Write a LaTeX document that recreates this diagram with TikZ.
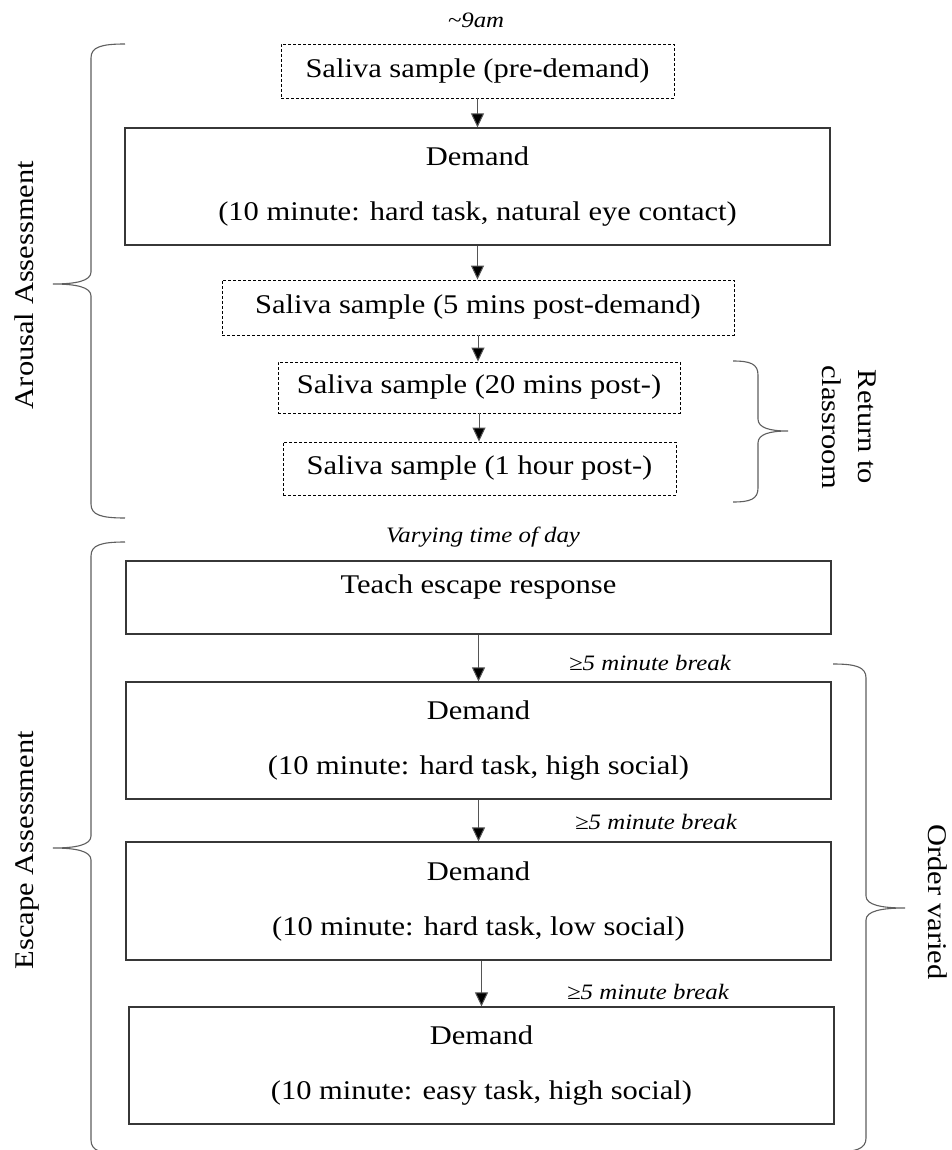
\documentclass[tikz,border=0pt]{standalone}
\usepackage{fontspec}
\setmainfont{Liberation Serif}[FakeStretch=1.13]
\usetikzlibrary{arrows.meta}
\definecolor{boxc}{RGB}{55,55,55}
\definecolor{arrc}{RGB}{85,85,85}
\definecolor{bracec}{RGB}{95,95,95}
\newcommand\mainsz{\fontsize{27}{55}\selectfont}
\newcommand\sidesz{\fontsize{27}{36}\selectfont}
\newcommand\notesz{\fontsize{22}{26}\selectfont\itshape}
% #1 end x, #2 spine x, #3 tip x, #4 top y, #5 tip y, #6 bottom y
\newcommand\mybrace[6]{%
  \draw[brc] (#1,#4) .. controls ({#2+0.3*(#1-#2)},#4) and (#2,{#4+3}) .. (#2,{#4+14})
    -- (#2,{#5-12}) .. controls (#2,{#5-3}) and ({#2+0.4*(#3-#2)},#5) .. (#3,#5)
    .. controls ({#2+0.4*(#3-#2)},#5) and (#2,{#5+3}) .. (#2,{#5+12})
    -- (#2,{#6-14}) .. controls (#2,{#6-3}) and ({#2+0.3*(#1-#2)},#6) .. (#1,#6);}
\begin{document}
\begin{tikzpicture}[x=1pt,y=-1pt,
  every node/.style={font=\mainsz},
  box/.style={draw=boxc, line width=1.2pt, inner sep=0pt},
  dbox/.style={draw=black, line width=0.9pt, dash pattern=on 3pt off 2pt, inner sep=0pt},
  arr/.style={draw=arrc, line width=1pt, -{Triangle[length=14pt,width=13pt,fill=black]}},
  note/.style={font=\notesz},
  side/.style={font=\mainsz},
  side2/.style={font=\sidesz, align=center},
  brc/.style={draw=bracec, line width=1.1pt}
]
\clip (0,0) rectangle (952,1150);
\fill[white] (0,0) rectangle (952,1150);

% time notes
\node[note] (t0) at (476,20) {\textasciitilde9am};
\node[note] (t1) at (483,537) {Varying time of day};

% arousal assessment
\node[dbox, minimum width=393pt, minimum height=54pt] (b1) at (477.5,71) {Saliva sample (pre-demand)\hspace{13pt}};
\node[box, minimum width=705pt, minimum height=117pt, align=center] (b2) at (477.5,186.5) {Demand\\(10 minute: hard task, natural eye contact)};
\node[dbox, minimum width=512pt, minimum height=55pt] (b3) at (478,307.5) {Saliva sample (5 mins post-demand)\hspace{32pt}};
\node[dbox, minimum width=402pt, minimum height=51pt] (b4) at (479,387.5) {Saliva sample (20 mins post-)\hspace{4pt}};
\node[dbox, minimum width=393pt, minimum height=53pt] (b5) at (479.5,468.5) {Saliva sample (1 hour post-)\hspace{13pt}};

% escape assessment
\node[box, minimum width=705pt, minimum height=73pt, text depth=26pt] (b6) at (478.5,597.5) {Teach escape response};
\node[box, minimum width=705pt, minimum height=117pt, align=center] (b7) at (478.5,740.5) {Demand\\(10 minute: hard task, high social)};
\node[box, minimum width=705pt, minimum height=118pt, align=center] (b8) at (478.5,901) {Demand\\(10 minute: hard task, low social)};
\node[box, minimum width=705pt, minimum height=117pt, align=center] (b9) at (481.5,1065.5) {Demand\\(10 minute: easy task, high social)};

% break notes
\node[note] (n1) at (650,663) {≥5 minute break};
\node[note] (n2) at (656,822) {≥5 minute break};
\node[note] (n3) at (648,992) {≥5 minute break};

% arrows
\draw[arr] (b1.south) -- (b1.south |- b2.north);
\draw[arr] (b2.south) -- (b2.south |- b3.north);
\draw[arr] (b3.south) -- (b3.south |- b4.north);
\draw[arr] (b4.south) -- (b4.south |- b5.north);
\draw[arr] (b6.south) -- (b6.south |- b7.north);
\draw[arr] (b7.south) -- (b7.south |- b8.north);
\draw[arr] (b9.north |- b8.south) -- (b9.north);

% braces
\mybrace{125}{91}{53}{44}{284}{518}
\mybrace{125}{91}{53}{542}{848}{1154}
\mybrace{733}{758}{788}{361}{431}{502}
\mybrace{833}{866}{905}{664}{908}{1152}

% side labels
\node[side, rotate=90, anchor=base] (l1) at (33,285) {Arousal Assessment};
\node[side, rotate=90, anchor=base] (l2) at (33,850) {Escape Assessment};
\node[side2, rotate=-90, anchor=base] (l3) at (822,427) {Return to\\classroom};
\node[side, rotate=-90, anchor=base] (l4) at (928,902) {Order varied};
\end{tikzpicture}
\end{document}
